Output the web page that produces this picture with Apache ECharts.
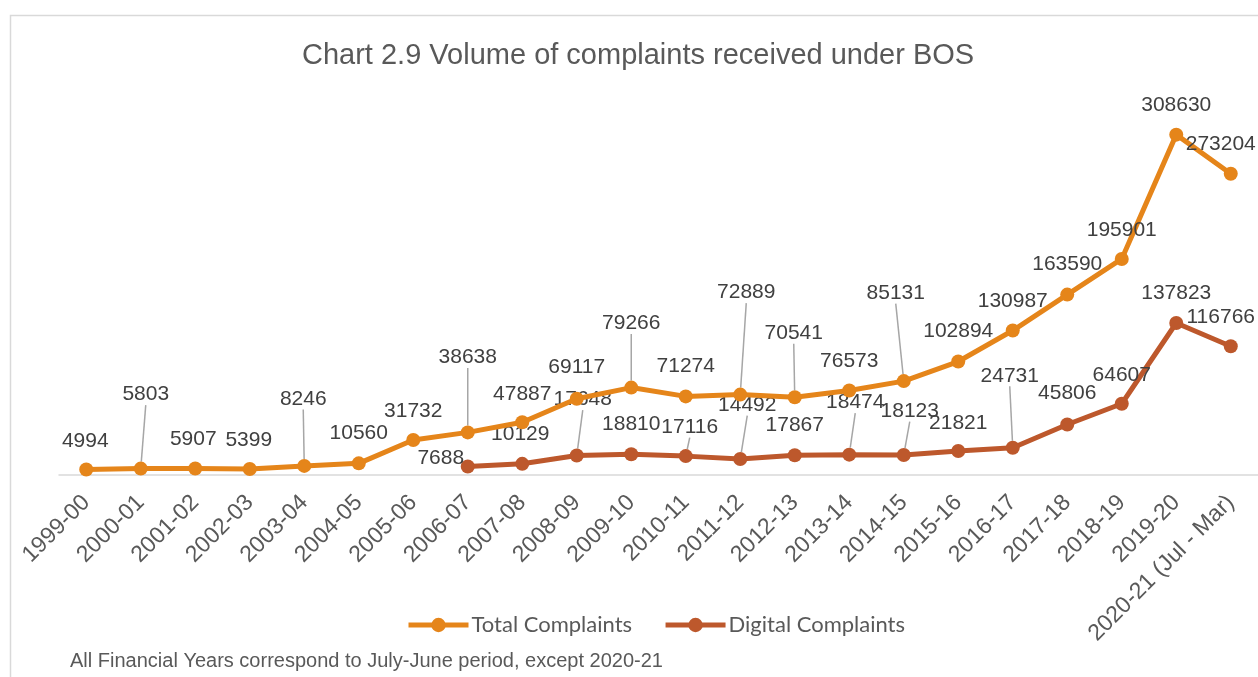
<!DOCTYPE html>
<html>
<head>
<meta charset="utf-8">
<script src="https://cdn.jsdelivr.net/npm/echarts@6/dist/echarts.min.js"></script>
<style>
html,body{margin:0;padding:0;background:#fff;}
#chart{width:1258px;height:677px;}
</style>
</head>
<body>
<div id="chart"></div>
<script>
const categories = ['1999-00','2000-01','2001-02','2002-03','2003-04','2004-05','2005-06','2006-07','2007-08','2008-09','2009-10','2010-11','2011-12','2012-13','2013-14','2014-15','2015-16','2016-17','2017-18','2018-19','2019-20','2020-21 (Jul - Mar)'];
const totalComplaints = [4994,5803,5907,5399,8246,10560,31732,38638,47887,69117,79266,71274,72889,70541,76573,85131,102894,130987,163590,195901,308630,273204];
const digitalComplaints = [null,null,null,null,null,null,null,7688,10129,17648,18810,17116,14492,17867,18474,18123,21821,24731,45806,64607,137823,116766];

// label placement (offset of label centre from the marker, in px) and leader-line flags
const totalLabelOffsets = [[-1,-28],[5,-74],[-2,-29],[-1,-29],[-1,-67],[0,-30],[0,-29],[0,-75],[0,-28],[0,-32],[0,-64],[0,-30],[6,-102],[-1,-64],[0,-29],[-8,-88],[0,-30],[0,-29],[0,-30],[0,-29],[0,-29],[-10,-29]];
const totalLeaders = [0,1,0,0,1,0,0,1,0,0,1,0,1,1,0,1,0,0,0,0,0,0];
const digitalLabelOffsets = [null,null,null,null,null,null,null,[-27,-8],[-2,-30],[6,-56],[0,-30],[4,-29],[7,-54],[0,-30],[6,-52],[6,-44],[0,-28],[-3,-72],[0,-31],[0,-29],[0,-30],[-10,-29]];
const digitalLeaders = [0,0,0,0,0,0,0,0,0,1,0,1,1,0,1,1,0,1,0,0,0,0];

const offsetsBySeries = [totalLabelOffsets, digitalLabelOffsets];
const leadersBySeries = [totalLeaders, digitalLeaders];

function toItems(values, leaders) {
  return values.map((v, i) => ({ value: v, labelLine: { show: !!leaders[i] } }));
}

const chart = echarts.init(document.getElementById('chart'));

function labelLayout(params) {
  const off = offsetsBySeries[params.seriesIndex][params.dataIndex] || [0,-28];
  const cx = params.rect.x + params.rect.width / 2;
  const cy = params.rect.y + params.rect.height / 2;
  const lx = cx + off[0];
  const ly = cy + off[1];
  const h = params.labelRect.height;
  const res = { x: lx, y: ly, align: 'center', verticalAlign: 'middle' };
  if (leadersBySeries[params.seriesIndex][params.dataIndex]) {
    res.labelLinePoints = [[lx, ly + h / 2 + 2], [cx, cy - 2]];
  }
  return res;
}

const labelStyle = {
  show: true,
  position: 'top',
  fontFamily: 'Liberation Sans, Arial, sans-serif',
  fontSize: 21,
  color: '#404040'
};
const labelLineStyle = { show: false, lineStyle: { color: '#a6a6a6', width: 1.5 } };

chart.setOption({
  animation: false,
  backgroundColor: '#ffffff',
  title: {
    text: 'Chart 2.9 Volume of complaints received under BOS',
    left: 297,
    top: 36,
    textStyle: { fontFamily: 'Liberation Sans, Arial, sans-serif', fontSize: 29, fontWeight: 'normal', color: '#595959' }
  },
  legend: {
    left: 401,
    top: 609,
    itemWidth: 60,
    itemHeight: 18,
    itemGap: 31,
    textStyle: { fontFamily: 'Lato, sans-serif', fontSize: 22, color: '#595959', padding: [0, 0, 0, -2] },
    lineStyle: { width: 5 },
    data: ['Total Complaints', 'Digital Complaints']
  },
  grid: { left: 59, right: 0, top: 89, bottom: 202, containLabel: false },
  xAxis: {
    type: 'category',
    data: categories,
    boundaryGap: true,
    axisLine: { lineStyle: { color: '#d9d9d9', width: 1.5 } },
    axisTick: { show: false },
    axisLabel: { rotate: 45, interval: 0, fontFamily: 'Liberation Sans, Arial, sans-serif', fontSize: 23, color: '#595959', margin: 24 }
  },
  yAxis: {
    type: 'value',
    min: 0,
    max: 350000,
    interval: 50000,
    show: false,
    splitLine: { show: false }
  },
  graphic: [
    { type: 'rect', left: 8, top: 13, shape: { width: 1300, height: 700 }, style: { fill: 'none', stroke: '#d9d9d9', lineWidth: 1.5 }, silent: true },
    { type: 'text', left: 70, top: 651, style: { text: 'All Financial Years correspond to July-June period, except 2020-21', fontFamily: 'Liberation Sans, Arial, sans-serif', fontSize: 20, fill: '#595959' } }
  ],
  series: [
    {
      name: 'Total Complaints',
      type: 'line',
      data: toItems(totalComplaints, totalLeaders),
      color: '#E5851A',
      symbol: 'circle',
      symbolSize: 14,
      lineStyle: { width: 5, color: '#E5851A' },
      itemStyle: { color: '#E5851A' },
      label: labelStyle,
      labelLine: labelLineStyle,
      labelLayout: labelLayout,
      z: 3
    },
    {
      name: 'Digital Complaints',
      type: 'line',
      data: toItems(digitalComplaints, digitalLeaders),
      color: '#BD582C',
      symbol: 'circle',
      symbolSize: 14,
      lineStyle: { width: 5, color: '#BD582C' },
      itemStyle: { color: '#BD582C' },
      label: labelStyle,
      labelLine: labelLineStyle,
      labelLayout: labelLayout,
      z: 2
    }
  ]
});
</script>
</body>
</html>
